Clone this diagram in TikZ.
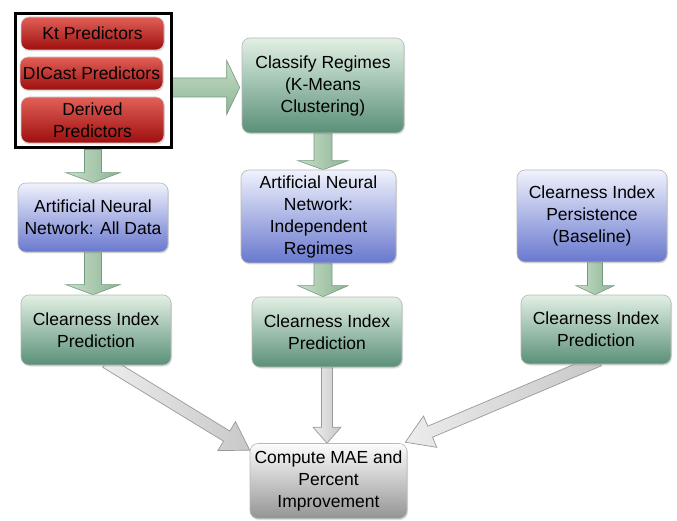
\documentclass[tikz,border=0pt]{standalone}
\usepackage{fontspec}
\setmainfont{Liberation Sans}
\usetikzlibrary{calc,shadows}
\pgfdeclarelayer{background}
\pgfdeclarelayer{paper}
\pgfsetlayers{paper,background,main}
\definecolor{redtop}{RGB}{226,96,88}
\definecolor{redmid}{RGB}{190,35,32}
\definecolor{redbot}{RGB}{158,14,14}
\definecolor{grntop}{RGB}{226,240,228}
\definecolor{grnmid}{RGB}{160,198,172}
\definecolor{grnbot}{RGB}{90,144,120}
\definecolor{blutop}{RGB}{240,242,252}
\definecolor{blumid}{RGB}{168,178,236}
\definecolor{blubot}{RGB}{104,120,206}
\definecolor{grytop}{RGB}{252,252,252}
\definecolor{grymid}{RGB}{218,218,218}
\definecolor{grybot}{RGB}{148,148,148}
\definecolor{arrL}{RGB}{200,222,200}
\definecolor{arrR}{RGB}{140,180,150}
\definecolor{arrD}{RGB}{115,155,125}
\definecolor{gyL}{RGB}{236,236,236}
\definecolor{gyR}{RGB}{200,200,200}
\newcommand\fatarrow[6]{%
  \coordinate (fa-h) at ($(#3)!#6!(#2)$);
  \path[#1] ($(#2)!#4!90:(#3)$) -- ($(fa-h)!#4!-90:(#2)$) -- ($(fa-h)!#5!-90:(#2)$)
    -- (#3) -- ($(fa-h)!#5!90:(#2)$) -- ($(fa-h)!#4!90:(#2)$) -- ($(#2)!#4!-90:(#3)$) -- cycle;
}
\tikzset{
  txt/.style={font=\fontsize{17.5}{22}\selectfont, align=center, inner sep=0pt, text=black},
  box/.style={txt, rounded corners=8pt, draw=gray!55, line width=0.6pt,
    drop shadow={opacity=0.25, shadow xshift=1pt, shadow yshift=-1.5pt}},
  redbox/.style={box, top color=redtop, middle color=redmid, bottom color=redbot, draw=gray!35},
  grnbox/.style={box, top color=grntop, middle color=grnmid, bottom color=grnbot},
  blubox/.style={box, top color=blutop, middle color=blumid, bottom color=blubot},
  grybox/.style={box, top color=grytop, middle color=grymid, bottom color=grybot},
  garrowv/.style={left color=arrL, right color=arrR, draw=arrD, line width=0.6pt},
  garrowh/.style={top color=arrL, bottom color=arrR, draw=arrD, line width=0.6pt},
  yarrow/.style={left color=gyL, right color=gyR, draw=gray!80, line width=0.7pt},
}
\begin{document}
\begin{tikzpicture}[x=1pt,y=-1pt]
\useasboundingbox (0,0) rectangle (677,521);
\begin{pgfonlayer}{paper}
\fill[white] (0,0) rectangle (677,521);
\end{pgfonlayer}
% frame
\node[draw=black, line width=3pt, fill=white, minimum width=156pt, minimum height=134pt, inner sep=0pt] (frame) at (93,81) {};
\node[redbox, minimum width=143pt, minimum height=33pt] (kt) at (92.5,33.5) {Kt Predictors};
\node[redbox, minimum width=143pt, minimum height=33pt] (dicast) at (91.5,73.5) {DICast Predictors};
\node[redbox, minimum width=143pt, minimum height=46pt] (derived) at (92.5,120) {Derived\\Predictors};
% nodes
\node[grnbox, minimum width=162pt, minimum height=95pt] (classify) at (323,85.5) {Classify Regimes\\(K-Means\\Clustering)};
\node[blubox, minimum width=155pt, minimum height=93pt] (annind) at (318.5,216.5) {Artificial Neural\\Network:\\Independent\\Regimes};
\node[blubox, minimum width=150pt, minimum height=69pt] (annall) at (93,217.5) {Artificial Neural\\Network: All Data};
\node[blubox, minimum width=150pt, minimum height=92pt] (persist) at (592,216) {Clearness Index\\Persistence\\(Baseline)};
\node[grnbox, minimum width=150pt, minimum height=70pt] (cipL) at (96,330) {Clearness Index\\Prediction};
\node[grnbox, minimum width=150pt, minimum height=70pt] (cipM) at (327,332) {Clearness Index\\Prediction};
\node[grnbox, minimum width=150pt, minimum height=69pt] (cipR) at (596,329.5) {Clearness Index\\Prediction};
\node[grybox, minimum width=157pt, minimum height=75pt] (mae) at (328.5,481) {Compute MAE and\\Percent\\Improvement};
% connectors
\begin{pgfonlayer}{background}
\coordinate (a1s) at ($(frame.east)+(0,6.5)$);
\coordinate (a1e) at ($(classify.west |- a1s)+(-2,0)$);
\fatarrow{garrowh}{a1s}{a1e}{9.5pt}{27pt}{13pt}
\coordinate (a2s) at (frame.south);
\coordinate (a2e) at (annall.north);
\fatarrow{garrowv}{a2s}{a2e}{8.5pt}{27pt}{10pt}
\coordinate (a3s) at (annall.south);
\coordinate (a3e) at (annall.south |- cipL.north);
\fatarrow{garrowv}{a3s}{a3e}{8.5pt}{27pt}{10pt}
\coordinate (a4s) at (classify.south);
\coordinate (a4e) at (classify.south |- annind.north);
\fatarrow{garrowv}{a4s}{a4e}{9pt}{25pt}{9pt}
\coordinate (a5s) at (classify.south |- annind.south);
\coordinate (a5e) at (classify.south |- cipM.north);
\fatarrow{garrowv}{a5s}{a5e}{9pt}{25pt}{11pt}
\coordinate (a6s) at ($(persist.south)+(3,0)$);
\coordinate (a6e) at (a6s |- cipR.north);
\fatarrow{garrowv}{a6s}{a6e}{7.5pt}{19pt}{9pt}
\coordinate (b1s) at ($(cipL.south)+(10,-3)$);
\coordinate (b1e) at ($(mae.north west)+(0,7)$);
\fatarrow{yarrow}{b1s}{b1e}{6pt}{17pt}{27pt}
\coordinate (b2s) at ($(cipM.south)+(0,-3)$);
\coordinate (b2e) at (b2s |- mae.north);
\fatarrow{yarrow}{b2s}{b2e}{5.5pt}{14pt}{16pt}
\coordinate (b3s) at ($(cipR.south)+(3,-4)$);
\coordinate (b3e) at ($(mae.north east)+(-2,-1)$);
\fatarrow{yarrow}{b3s}{b3e}{6pt}{17pt}{27pt}
\end{pgfonlayer}
\end{tikzpicture}
\end{document}
